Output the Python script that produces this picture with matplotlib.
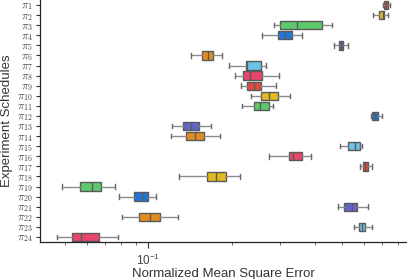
import numpy as np
import matplotlib
matplotlib.use("Agg")
import matplotlib.pyplot as plt

plt.rcParams['mathtext.fontset'] = 'cm'
plt.rcParams['font.family'] = ['Liberation Sans', 'DejaVu Sans']

# schedules pi_1 .. pi_24 (top to bottom)
labels = [r"$\pi_{%d}$" % i for i in range(1, 25)]

# five-number summaries (NMSE, log scale)
whislo = [0.702, 0.649, 0.285, 0.257, 0.467, 0.1426, 0.196, 0.206, 0.216, 0.235, 0.218, 0.635,
          0.1218, 0.1205, 0.492, 0.272, 0.581, 0.1287, 0.0487, 0.0782, 0.485, 0.0804, 0.554, 0.0468]
q1 = [0.709, 0.682, 0.300, 0.293, 0.487, 0.1566, 0.225, 0.219, 0.227, 0.255, 0.240, 0.644,
      0.1335, 0.1371, 0.527, 0.323, 0.597, 0.1633, 0.0568, 0.0886, 0.5075, 0.0928, 0.578, 0.0530]
med = [0.721, 0.704, 0.345, 0.312, 0.495, 0.1638, 0.227, 0.2335, 0.241, 0.272, 0.253, 0.658,
       0.143, 0.1478, 0.5575, 0.332, 0.607, 0.175, 0.0628, 0.0949, 0.544, 0.1014, 0.591, 0.0571]
q3 = [0.733, 0.711, 0.424, 0.331, 0.505, 0.1717, 0.256, 0.258, 0.255, 0.293, 0.272, 0.673,
      0.1528, 0.1593, 0.583, 0.359, 0.619, 0.190, 0.0677, 0.0998, 0.568, 0.1105, 0.606, 0.0662]
whishi = [0.748, 0.733, 0.459, 0.359, 0.527, 0.185, 0.267, 0.297, 0.288, 0.326, 0.283, 0.700,
          0.1688, 0.182, 0.592, 0.388, 0.644, 0.215, 0.0760, 0.1069, 0.621, 0.128, 0.642, 0.0779]

palette = ["#e24a3f", "#e2bb1e", "#5cc96a", "#1f78d8",
           "#6564c8", "#e38c20", "#6cc2e8", "#e8456a"]

stats = []
for i in range(len(labels)):
    stats.append(dict(whislo=whislo[i], q1=q1[i], med=med[i], q3=q3[i],
                      whishi=whishi[i], fliers=[], label=labels[i]))

fig = plt.figure(figsize=(4.07, 2.79), dpi=100)
ax = fig.add_axes([40 / 407, 1 - 242 / 279, 366 / 407, 242 / 279])

pos = np.arange(len(labels))
bp = ax.bxp(stats, positions=pos, vert=False, widths=0.82, patch_artist=True,
            showfliers=False,
            boxprops=dict(edgecolor="#5a5a5a", linewidth=1.0),
            medianprops=dict(color="#5a5a5a", linewidth=1.0),
            whiskerprops=dict(color="#8a8a8a", linewidth=1.0),
            capprops=dict(color="#6a6a6a", linewidth=1.0),
            capwidths=0.45)
for i, b in enumerate(bp['boxes']):
    b.set_facecolor(palette[i % len(palette)])

ax.set_xscale('log')
ax.set_xlim(0.04064, 0.852)
ax.set_ylim(len(labels) - 0.5, -0.5)
ax.set_yticks(pos)
ax.set_yticklabels(labels, fontsize=8, color="#444444")
ax.tick_params(axis='y', length=3, width=0.8, pad=2, color="#333333")
ax.tick_params(axis='x', which='major', length=4, width=0.8, labelsize=8.5,
               labelcolor="#444444", pad=4, color="#333333")
ax.tick_params(axis='x', which='minor', length=2.5, width=0.6, color="#555555")

for side in ['top', 'right']:
    ax.spines[side].set_visible(False)
for side in ['left', 'bottom']:
    ax.spines[side].set_color("#222222")
    ax.spines[side].set_linewidth(0.9)

ax.set_xlabel("Normalized Mean Square Error", fontsize=9.5, color="#333333", labelpad=0)
ax.set_ylabel("Experiment Schedules", fontsize=9.5, color="#333333", labelpad=3)

fig.savefig("out.png", dpi=100)
